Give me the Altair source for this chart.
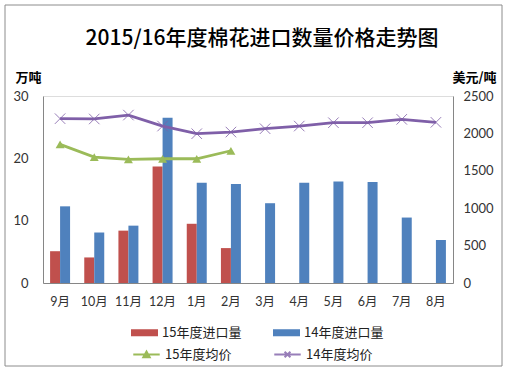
import altair as alt
import pandas as pd

months = ["9月", "10月", "11月", "12月", "1月", "2月", "3月", "4月", "5月", "6月", "7月", "8月"]
imp15 = [5.1, 4.1, 8.4, 18.7, 9.5, 5.6]
imp14 = [12.3, 8.1, 9.2, 26.5, 16.1, 15.9, 12.8, 16.1, 16.3, 16.2, 10.5, 6.9]
price15 = [1853, 1683, 1652, 1661, 1661, 1768]
price14 = [2197, 2193, 2245, 2098, 1996, 2018, 2063, 2098, 2143, 2143, 2188, 2148]

S_IMP15 = "15年度进口量"
S_IMP14 = "14年度进口量"
S_P15 = "15年度均价"
S_P14 = "14年度均价"

RED, BLUE, GREEN, PURPLE = "#C0504D", "#4F81BD", "#9BBB59", "#7F5FA8"
CJK = "Noto Sans CJK SC"
NUM = "Lato, Noto Sans CJK SC"

bar_rows = [{"month": m, "series": S_IMP15, "value": v} for m, v in zip(months, imp15)]
bar_rows += [{"month": m, "series": S_IMP14, "value": v} for m, v in zip(months, imp14)]
df_bar = pd.DataFrame(bar_rows)
df_p15 = pd.DataFrame({"month": months[:len(price15)], "price": price15, "series": S_P15})
df_p14 = pd.DataFrame({"month": months, "price": price14, "series": S_P14})

x_enc = alt.X(
    "month:N",
    sort=months,
    scale=alt.Scale(domain=months, paddingInner=0.415, paddingOuter=0.2075),
    axis=alt.Axis(title=None, labelAngle=0, ticks=False, domainColor="#868686",
                  labelFont=NUM, labelFontSize=12.5, labelColor="#333333", labelPadding=12),
)

legend_common = dict(orient="none", title=None, direction="horizontal",
                     labelFont=CJK, labelFontSize=13, labelColor="#222222",
                     labelOffset=4, padding=0)

bars = alt.Chart(df_bar).mark_bar().encode(
    x=x_enc,
    xOffset=alt.XOffset("series:N", sort=[S_IMP15, S_IMP14],
                        scale=alt.Scale(domain=[S_IMP15, S_IMP14], paddingInner=0, paddingOuter=0)),
    y=alt.Y("value:Q", scale=alt.Scale(domain=[0, 30]),
            axis=alt.Axis(values=[0, 10, 20, 30], grid=False, ticks=False, domainColor="#868686",
                          labelFont=NUM, labelFontSize=13, labelColor="#333333", labelPadding=15,
                          title="万吨", titleAngle=0, titleAlign="left",
                          titleBaseline="middle", titleX=-28, titleY=-19,
                          titleFont=CJK, titleFontSize=13, titleFontWeight="bold", titleColor="#000000")),
    color=alt.Color("series:N", sort=[S_IMP15, S_IMP14],
                    scale=alt.Scale(domain=[S_IMP15, S_IMP14], range=[RED, BLUE]),
                    legend=alt.Legend(legendX=88, legendY=223, columns=2, columnPadding=31,
                                      symbolType="M-1,-0.26H1V0.26H-1Z", symbolSize=729,
                                      symbolStrokeWidth=0, **legend_common)),
)

green = alt.Chart(df_p15).mark_line(
    strokeWidth=2.8,
    point=alt.OverlayMarkDef(shape="triangle-up", filled=True, size=80),
).encode(
    x=x_enc,
    y=alt.Y("price:Q", scale=alt.Scale(domain=[0, 2500]),
            axis=alt.Axis(orient="right", values=[0, 500, 1000, 1500, 2000, 2500], format="d",
                          grid=False, ticks=False,
                          domainColor="#868686", labelFont=NUM, labelFontSize=13, labelColor="#333333",
                          labelPadding=10, title="美元/吨", titleAngle=0, titleAlign="left",
                          titleBaseline="middle", titleX=-1, titleY=-19,
                          titleFont=CJK, titleFontSize=13, titleFontWeight="bold", titleColor="#000000")),
    color=alt.Color("series:N", scale=alt.Scale(domain=[S_P15], range=[GREEN]),
                    legend=alt.Legend(legendX=89, legendY=244,
                                      symbolType="M-1,0H1M-0.24,0.2L0,-0.22L0.24,0.2Z", symbolSize=700,
                                      symbolStrokeWidth=2, symbolFillColor=GREEN, **legend_common)),
)

purple = alt.Chart(df_p14).mark_line(
    strokeWidth=2.8,
    point=alt.OverlayMarkDef(shape="M-1,-1L1,1M-1,1L1,-1", filled=False, size=110, strokeWidth=1,
                             opacity=0.8),
).encode(
    x=x_enc,
    y=alt.Y("price:Q", scale=alt.Scale(domain=[0, 2500]), axis=None),
    color=alt.Color("series:N", scale=alt.Scale(domain=[S_P14], range=[PURPLE]),
                    legend=alt.Legend(legendX=230, legendY=244,
                                      symbolType="M-1,0H1M-0.22,-0.2L0.22,0.2M-0.22,0.2L0.22,-0.2",
                                      symbolSize=700, symbolStrokeWidth=2, **legend_common)),
)

border = alt.Chart(alt.Data(values=[{}])).mark_rect(
    fill=None, stroke="#8C8C8C", strokeWidth=1
).encode(
    x=alt.value(-38), x2=alt.value(459), y=alt.value(-91), y2=alt.value(270)
)

chart = alt.layer(border, bars, green, purple).resolve_scale(
    y="independent", color="independent"
).properties(
    width=410,
    height=187,
    autosize=alt.AutoSizeParams(type="none"),
    padding={"left": 43, "top": 96, "right": 55, "bottom": 92},
    title=alt.Title("2015/16年度棉花进口数量价格走势图", font=CJK, fontSize=21, fontWeight=500,
                    color="#000000", anchor="middle", frame="group", dx=14, offset=-44),
).configure_view(stroke=None).configure(background="white")

chart.save("out.html", embed_options={"renderer": "svg", "actions": False})
